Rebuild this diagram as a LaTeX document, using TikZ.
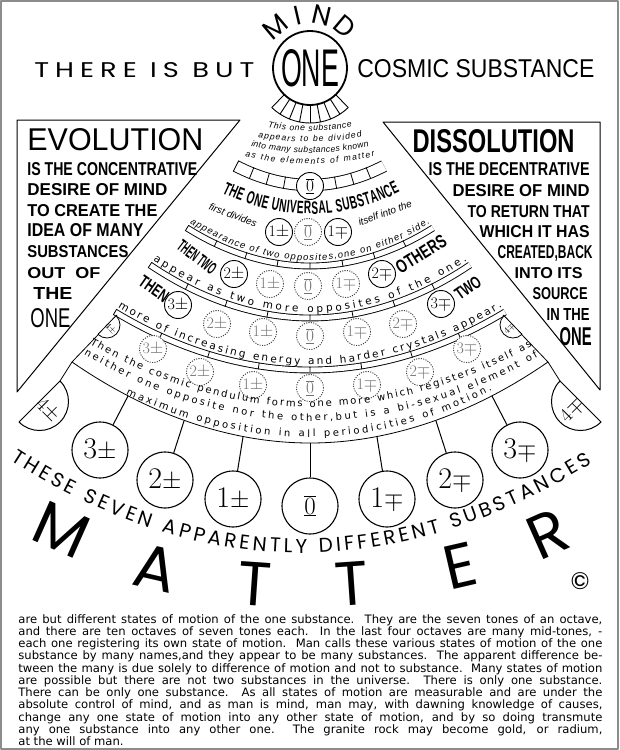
\documentclass[tikz,border=0pt]{standalone}
\usepackage{graphicx}
\usepackage{fontspec}
\usetikzlibrary{decorations.text,decorations.markings}

\newfontfamily\geo{Poppins}
\newfontfamily\lib{Liberation Sans}
\newfontfamily\narrowbold[FakeStretch=0.56]{Liberation Sans Bold}
\newfontfamily\roundfont{DejaVu Sans}
\newfontfamily\parafont{DejaVu Sans}

\newcommand\fitbox[3]{\resizebox{#1pt}{#2pt}{#3}}
\newcommand\plab[1]{#1$\pm$}
\newcommand\mlab[1]{#1$\mp$}
\newcommand\zlab{$\underline{\overline{0}}$}
\newcommand\tinyit{\lib\itshape\fontsize{8.6}{8.6}\selectfont}
\newcommand\smallit{\lib\itshape\fontsize{9.4}{9.4}\selectfont}
\newcommand\roundtext{\roundfont\fontsize{10.5}{10.5}\selectfont}
\newcommand\pendtext{\roundfont\fontsize{10}{10}\selectfont}
\newcommand\boldarc{\narrowbold\fontsize{18}{18}\selectfont}
\newcommand\geoarc{\geo\fontsize{20}{20}\selectfont}

\tikzset{
  bigsub/.style={circle, draw, line width=1.1pt, fill=white, minimum size=56pt, inner sep=0pt, font=\fontsize{30}{30}\selectfont},
  subst/.style={circle, draw, line width=0.9pt, fill=white, minimum size=27pt, inner sep=0pt, font=\fontsize{16}{16}\selectfont},
  ghost/.style={subst, draw=black!75, dash pattern=on 1.1pt off 1.3pt, text=black!55},
  capl/.style={anchor=base west, inner sep=0pt},
  capr/.style={anchor=base east, inner sep=0pt},
  band/.style={draw=white, line width=5pt, preaction={draw=black, line width=6.8pt}},
  boxband/.style={draw=white, line width=10.5pt, preaction={draw=black, line width=12.3pt}},
  bandticks/.style={postaction={decorate, decoration={markings,
    mark=between positions 0 and 1 step #1 with {\draw[draw=black, line width=0.8pt] (0,-3.4) -- (0,3.4);}}}},
  boxticks/.style={postaction={decorate, decoration={markings,
    mark=between positions 0 and 1 step #1 with {\draw[draw=black, line width=0.8pt] (0,-6.1) -- (0,6.1);}}}},
  on arc/.style={decorate, decoration={text along path, text align={fit to path}, text color=black, text={#1}}},
  band text/.style={postaction={on arc={#1}, decoration={raise=5.5pt}}},
  mattertype/.style={font=\geo\fontsize{62}{62}\selectfont, inner sep=0pt}
}

\begin{document}
\begin{tikzpicture}[x=1pt, y=-1pt, line width=0.8pt, line join=round]
  \useasboundingbox (0,0) rectangle (619,750);
  \draw[black!45, line width=1.2pt] (1,1) rectangle (618,749);

  % title line and the one
  \node[capl] (there) at (34,77) {\fitbox{220}{15}{\geo\addfontfeature{LetterSpace=22}THERE IS BUT}};
  \node[capl] (cosmic) at (357,77) {\fitbox{237}{18}{\lib COSMIC SUBSTANCE}};
  \node[circle, draw, line width=1.8pt, minimum size=74pt, inner sep=0pt] (one) at (310,68) {\fitbox{58}{37}{\lib ONE}};
  \foreach \ch/\ang in {M/130,I/103,N/77,D/50}
    \node[rotate=\ang-90, inner sep=0pt, font=\geo\fontsize{27}{27}\selectfont] (mind\ch) at ([shift={(-\ang:54)}]one.center) {\ch};
  \draw[line width=0.9pt] (one.center) ++(46:55) arc[start angle=46, end angle=134, radius=55];
  \foreach \a in {46,57,...,134}
    \draw[line width=0.9pt] (one.center) ++(\a:37.5) -- ++(\a:17.5);

  % evolution
  \draw[line width=1pt] (17,120) -- (240,120) -- (17,392) -- cycle;
  \node[capl] (evo) at (27,150) {\fitbox{176}{22}{\lib EVOLUTION}};
  \node[capl] (evo1) at (27,175) {\fitbox{170}{13}{\lib\bfseries IS THE CONCENTRATIVE}};
  \node[capl] (evo2) at (27,195) {\fitbox{140}{12}{\lib\bfseries DESIRE OF MIND}};
  \node[capl] (evo3) at (27,216) {\fitbox{130}{12}{\lib\bfseries TO CREATE THE}};
  \node[capl] (evo4) at (27,236) {\fitbox{116}{13}{\lib\bfseries IDEA OF MANY}};
  \node[capl] (evo5) at (27,257) {\fitbox{101}{12}{\lib\bfseries SUBSTANCES}};
  \node[capl] (evo6) at (27,278) {\fitbox{73}{11}{\lib\bfseries OUT\ \ OF}};
  \node[capl] (evo7) at (33,299) {\fitbox{39}{12}{\lib\bfseries THE}};
  \node[capl] (evo8) at (30,327) {\fitbox{40}{19}{\lib ONE}};

  % dissolution
  \draw[line width=1pt] (383,122) -- (600,122) -- (600,390) -- cycle;
  \node[capr] (dis) at (575,152) {\fitbox{162}{23}{\lib\bfseries DISSOLUTION}};
  \node[capr] (dis1) at (590,175) {\fitbox{161}{13}{\lib\bfseries IS THE DECENTRATIVE}};
  \node[capr] (dis2) at (590,196) {\fitbox{137}{12}{\lib\bfseries DESIRE OF MIND}};
  \node[capr] (dis3) at (590,217) {\fitbox{122}{12}{\lib\bfseries TO RETURN THAT}};
  \node[capr] (dis4) at (590,237) {\fitbox{110}{12}{\lib\bfseries WHICH IT HAS}};
  \node[capr] (dis5) at (593,258) {\fitbox{95}{13}{\lib\bfseries CREATED,BACK}};
  \node[capr] (dis6) at (583,278) {\fitbox{68}{11}{\lib\bfseries INTO ITS}};
  \node[capr] (dis7) at (588,299) {\fitbox{55}{12}{\lib\bfseries SOURCE}};
  \node[capr] (dis8) at (590,320) {\fitbox{43}{12}{\lib\bfseries IN THE}};
  \node[capr] (dis9) at (592,345) {\fitbox{32}{18}{\lib\bfseries ONE}};

  % the fan
  \path[on arc={|\tinyit|This one substance}] (268,127) parabola bend (310,131) (352,127);
  \path[on arc={|\tinyit|appears to be divided}] (258,137) parabola bend (310,142) (362,137);
  \path[on arc={|\tinyit|into many substances known}] (251,146) parabola bend (310,153) (369,146);
  \path[on arc={|\tinyit|as the elements of matter}] (245,156) parabola bend (310,164) (375,156);
  \draw[boxband, boxticks=0.11111] (236,166) parabola bend (310,185) (384,166);
  \node[subst] (b0) at (310,186) {\zlab};
  \path[on arc={|\boldarc|THE ONE UNIVERSAL SUBSTANCE}] (222,193) parabola bend (310,214) (400,192);

  \node[rotate=-20, inner sep=0pt, font=\lib\itshape\fontsize{10}{10}\selectfont] (firstdiv) at (233,215) {first divides};
  \node[rotate=20, inner sep=0pt, font=\lib\itshape\fontsize{10}{10}\selectfont] (itself) at (385,213) {itself into the};
  \node[subst] (d1l) at (279,232) {\plab{1}};
  \node[ghost] (d0) at (308,232) {\zlab};
  \node[subst] (d1r) at (338,232) {\mlab{1}};

  \draw[band, bandticks=0.125, band text={|\smallit|appearance of two opposites,one on either side.}] (187,228) parabola bend (310,266) (433,228);

  \node[rotate=-37, inner sep=0pt] (thentwo) at (197,257) {\fitbox{44}{12}{\lib\bfseries THEN TWO}};
  \node[rotate=32, inner sep=0pt] (others) at (421,254) {\fitbox{56}{13}{\lib\bfseries OTHERS}};
  \node[subst] (t2l) at (234,274) {\plab{2}};
  \node[ghost] (t1l) at (270,284) {\plab{1}};
  \node[ghost] (t0) at (308,286) {\zlab};
  \node[ghost] (t1r) at (346,284) {\mlab{1}};
  \node[subst] (t2r) at (382,274) {\mlab{2}};

  \draw[band, bandticks=0.125, band text={|\roundtext|appear as two more opposites of the one.}] (150,265) parabola bend (310,318) (470,265);

  \node[rotate=-35, inner sep=0pt] (then) at (154,289) {\fitbox{32}{12}{\lib\bfseries THEN}};
  \node[rotate=35, inner sep=0pt] (two) at (468,288) {\fitbox{28}{12}{\lib\bfseries TWO}};
  \node[subst] (h3l) at (178,305) {\plab{3}};
  \node[subst] (h3r) at (441,304) {\mlab{3}};
  \node[ghost] (g2l) at (217,324) {\plab{2}};
  \node[ghost] (g1l) at (263,332) {\plab{1}};
  \node[ghost] (g0) at (310,336) {\zlab};
  \node[ghost] (g1r) at (357,332) {\mlab{1}};
  \node[ghost] (g2r) at (403,324) {\mlab{2}};

  \draw[band, bandticks=0.125, band text={|\roundtext|more of increasing energy and harder crystals appear.}] (115,312) parabola bend (310,370) (505,312);

  \node[ghost] (k3l) at (153,349) {\plab{3}};
  \node[ghost] (k2l) at (200,372) {\plab{2}};
  \node[ghost] (k1l) at (253,385) {\plab{1}};
  \node[ghost] (k0) at (310,388) {\zlab};
  \node[ghost] (k1r) at (367,385) {\mlab{1}};
  \node[ghost] (k2r) at (420,372) {\mlab{2}};
  \node[ghost] (k3r) at (467,349) {\mlab{3}};

  \path[on arc={|\pendtext|Then the cosmic pendulum forms one more which registers itself as}] (90,344) parabola bend (310,407) (532,346);
  \path[on arc={|\pendtext|neither one opposite nor the other,but is a bi-sexual element of}] (84,354) parabola bend (310,421) (538,357);
  \path[on arc={|\pendtext|maximum opposition in all periodicities of motion.}] (126,394) parabola bend (310,437) (492,390);

  % outline of the fan and the fourth pair
  \draw (117,315) -- (72,362) parabola bend (310,443) (548,362) -- (503,315);
  \draw (72,362) -- (60,381);
  \draw (548,362) -- (560,381);
  \draw[fill=white] (107,325) ++(-46:13) arc[start angle=-46, end angle=134, radius=13] -- cycle;
  \draw[fill=white] (513,325) ++(226:13) arc[start angle=226, end angle=46, radius=13] -- cycle;
  \draw[line width=1pt, fill=white] (39.5,401.5) ++(-45:29) arc[start angle=-45, end angle=135, radius=29] -- cycle;
  \draw[line width=1pt, fill=white] (580.5,401.5) ++(225:29) arc[start angle=225, end angle=45, radius=29] -- cycle;
  \node[rotate=-45, inner sep=0pt, font=\fontsize{9}{9}\selectfont] (f4l) at ([shift={(44:5)}]107,325) {\plab{4}};
  \node[rotate=45, inner sep=0pt, font=\fontsize{9}{9}\selectfont] (f4r) at ([shift={(136:5)}]513,325) {\mlab{4}};
  \node[rotate=-45, inner sep=0pt, font=\fontsize{20}{20}\selectfont] (four4l) at ([shift={(45:12)}]39.5,401.5) {\plab{4}};
  \node[rotate=45, inner sep=0pt, font=\fontsize{20}{20}\selectfont] (four4r) at ([shift={(135:12)}]580.5,401.5) {\mlab{4}};

  % the seven hanging substances
  \node[bigsub] (c3l) at (100,450) {\plab{3}};
  \node[bigsub] (c2l) at (165,480) {\plab{2}};
  \node[bigsub] (c1l) at (233,499) {\plab{1}};
  \node[bigsub] (c0) at (310,506) {\zlab};
  \node[bigsub] (c1r) at (387,499) {\mlab{1}};
  \node[bigsub] (c2r) at (455,480) {\mlab{2}};
  \node[bigsub] (c3r) at (520,450) {\mlab{3}};
  \coordinate (s3l) at (128,396);
  \coordinate (s2l) at (184,421);
  \coordinate (s1l) at (243,437);
  \coordinate (s0) at (310,443);
  \coordinate (s1r) at (377,437);
  \coordinate (s2r) at (436,421);
  \coordinate (s3r) at (492,396);
  \foreach \n in {3l,2l,1l,0,1r,2r,3r}
    \draw[line width=1pt] (s\n) -- (c\n);

  \path[on arc={|\geoarc|THESE SEVEN APPARENTLY DIFFERENT SUBSTANCES}] (11,460) parabola bend (300,553) (592,463);

  \node[mattertype, rotate=-24] (m1) at (62,530) {M};
  \node[mattertype, rotate=-13] (m2) at (156,568) {A};
  \node[mattertype, rotate=-4] (m3) at (255,584) {T};
  \node[mattertype, rotate=4] (m4) at (352,584) {T};
  \node[mattertype, rotate=13] (m5) at (460,566) {E};
  \node[mattertype, rotate=24] (m6) at (548,534) {R};
  \node[inner sep=0pt, font=\geo\fontsize{24}{24}\selectfont] (copy) at (580,581) {©};

  \node[anchor=north west, inner sep=0pt, text width=584pt, align=justify,
        font=\parafont\fontsize{11.6}{11.2}\selectfont] (para) at (18,614)
    {\lineskiplimit=-20pt
     are but different states of motion of the one substance.\ \ They are the seven tones of an octave,\linebreak
     and there are ten octaves of seven tones each.\ \ In the last four octaves are many mid-tones, -\linebreak
     each one registering its own state of motion.\ \ Man calls these various states of motion of the one\linebreak
     substance by many names,and they appear to be many substances.\ \ The apparent difference be-\linebreak
     tween the many is due solely to difference of motion and not to substance.\ \ Many states of motion\linebreak
     are possible but there are not two substances in the universe.\ \ There is only one substance.\linebreak
     There can be only one substance.\ \ As all states of motion are measurable and are under the\linebreak
     absolute control of mind, and as man is mind, man may, with dawning knowledge of causes,\linebreak
     change any one state of motion into any other state of motion, and by so doing transmute\linebreak
     any one substance into any other one.\ \ The granite rock may become gold, or radium,\linebreak
     at the will of man.};
\end{tikzpicture}
\end{document}
